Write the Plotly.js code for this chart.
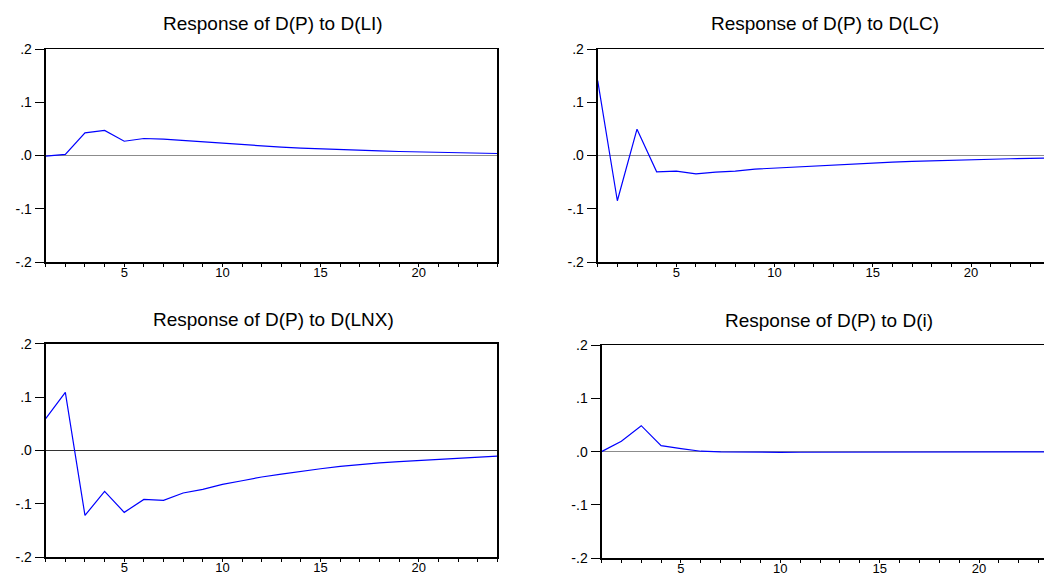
<!DOCTYPE html>
<html>
<head>
<meta charset="utf-8">
<script src="https://cdn.plot.ly/plotly-3.0.1.min.js"></script>
<style>
  html, body { margin: 0; padding: 0; background: #fff; overflow: hidden; }
  #chart { width: 1064px; height: 577px; }
</style>
</head>
<body>
<div id="chart"></div>
<script>
// Periods 1..24
const periods = [1,2,3,4,5,6,7,8,9,10,11,12,13,14,15,16,17,18,19,20,21,22,23,24];

// Response of D(P) to D(LI)
const respLI = [-0.001, 0.002, 0.0424, 0.047, 0.0268, 0.0319, 0.0306, 0.028, 0.025, 0.0225,
  0.0206, 0.018, 0.0157, 0.0138, 0.0122, 0.0108, 0.0096, 0.0085, 0.0075, 0.0066,
  0.0058, 0.005, 0.0044, 0.0038];

// Response of D(P) to D(LC)
const respLC = [0.1406, -0.085, 0.0495, -0.0306, -0.0293, -0.0344, -0.0313, -0.0293, -0.0256, -0.0236,
  -0.0213, -0.0192, -0.0172, -0.0155, -0.0139, -0.0124, -0.0111, -0.0099, -0.0088, -0.0078,
  -0.0069, -0.0061, -0.0054, -0.0047];

// Response of D(P) to D(LNX)
const respLNX = [0.0593, 0.1088, -0.122, -0.077, -0.1163, -0.092, -0.0938, -0.080, -0.0732, -0.0638,
  -0.057, -0.050, -0.0445, -0.039, -0.0345, -0.030, -0.0265, -0.0235, -0.021, -0.0188,
  -0.0165, -0.0145, -0.0125, -0.0107];

// Response of D(P) to D(i)
const respI = [0.0, 0.0197, 0.0488, 0.0114, 0.0057, 0.0008, -0.0004, -0.001, -0.0012, -0.0012,
  -0.0011, -0.001, -0.0009, -0.0008, -0.0007, -0.0006, -0.0005, -0.0004, -0.0004, -0.0003,
  -0.0003, -0.0002, -0.0002, -0.0002];

const panelTitles = ["Response of D(P) to D(LI)", "Response of D(P) to D(LC)",
                     "Response of D(P) to D(LNX)", "Response of D(P) to D(i)"];

const yTickVals = [-0.2, -0.1, 0, 0.1, 0.2];
const yTickText = ["-.2", "-.1", ".0", ".1", ".2"];
const xTickText = periods.map(p => (p % 5 === 0 ? String(p) : ""));

const W = 1064, H = 577;
const FONT = "Liberation Sans, Arial, Helvetica, sans-serif";

// pixel boxes [left, right, top, bottom]
const boxes = [
  [45.7, 497.3, 49, 262],
  [597.7, 1049.7, 49, 262],
  [45.7, 497.3, 343.7, 557],
  [601.5, 1058.5, 345.3, 558]
];
const titlePos = [[273, 24], [825, 24], [273, 319], [829, 320.5]];
const zeroColors = ["#8c8c8c", "#8c8c8c", "#333333", "#8c8c8c"];
const zeroWidths = [1.5, 1.5, 1.2, 1.5];

const series = [respLI, respLC, respLNX, respI];
const traces = [];
const layout = {
  width: W, height: H,
  margin: {l: 0, r: 0, t: 0, b: 0},
  paper_bgcolor: "#ffffff",
  plot_bgcolor: "#ffffff",
  showlegend: false,
  font: {family: FONT, color: "#000"},
  annotations: []
};

series.forEach((vals, i) => {
  const n = i + 1;
  const xa = n === 1 ? "x" : "x" + n;
  const ya = n === 1 ? "y" : "y" + n;
  traces.push({
    x: periods, y: vals, xaxis: xa, yaxis: ya,
    type: "scatter", mode: "lines",
    line: {color: "#0000ff", width: 1.2},
    hoverinfo: "skip"
  });
  const b = boxes[i];
  layout["xaxis" + (n === 1 ? "" : n)] = {
    domain: [b[0] / W, b[1] / W],
    anchor: ya,
    range: [1, 24],
    tickmode: "array", tickvals: periods, ticktext: xTickText,
    ticks: "outside", ticklen: 3, tickwidth: 1, tickcolor: "#000",
    ticklabelstandoff: -5,
    showline: true, linecolor: "#000", linewidth: 1.5, mirror: true,
    showgrid: false, zeroline: false,
    tickfont: {family: FONT, size: 13, color: "#000"}
  };
  layout["yaxis" + (n === 1 ? "" : n)] = {
    domain: [1 - b[3] / H, 1 - b[2] / H],
    anchor: xa,
    range: [-0.2, 0.2],
    tickmode: "array", tickvals: yTickVals, ticktext: yTickText,
    ticks: "outside", ticklen: 9, tickwidth: 1, tickcolor: "#000",
    showline: true, linecolor: "#000", linewidth: 2, mirror: true,
    showgrid: false,
    zeroline: true, zerolinecolor: zeroColors[i], zerolinewidth: zeroWidths[i],
    tickfont: {family: FONT, size: 14, color: "#000"}
  };
  layout.annotations.push({
    text: panelTitles[i],
    xref: "paper", yref: "paper",
    x: titlePos[i][0] / W, y: 1 - titlePos[i][1] / H,
    xanchor: "center", yanchor: "middle",
    showarrow: false,
    font: {family: FONT, size: 19, color: "#000"}
  });
});

Plotly.newPlot("chart", traces, layout, {staticPlot: true, displayModeBar: false});
</script>
</body>
</html>
